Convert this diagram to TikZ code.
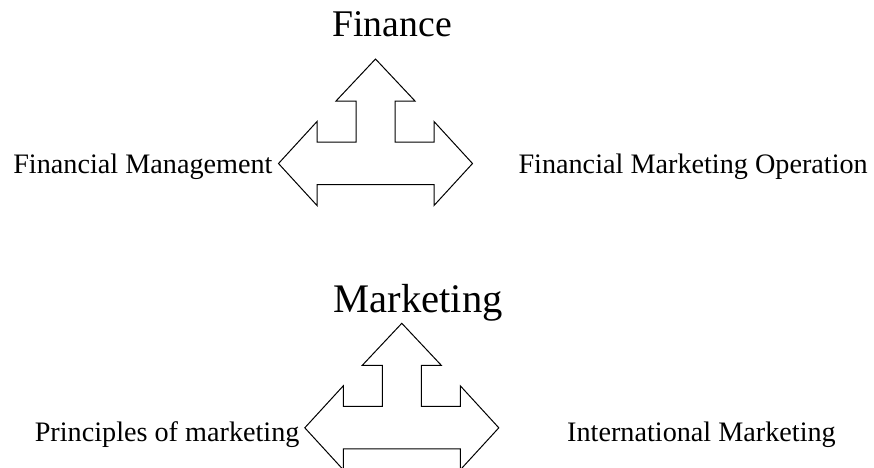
\documentclass[tikz,border=0pt]{standalone}
\usepackage{fontspec}
\setmainfont{Liberation Serif}
\usetikzlibrary{positioning}

\tikzset{
	threeway/.pic={
		\draw[line join=miter] (0,-104.5) -- (39.5,-62.5) -- (19.5,-62.5) -- (19.5,-21.5) -- (58.5,-21.5) -- (58.5,-42) -- (97,0) -- (58.5,42) -- (58.5,21)
			-- (-58.5,21) -- (-58.5,42) -- (-97,0) -- (-58.5,-42) -- (-58.5,-21.5) -- (-19.5,-21.5) -- (-19.5,-62.5) -- (-39.5,-62.5) -- cycle;
		\coordinate (-w) at (-97,0);
		\coordinate (-e) at (97,0);
	},
	lbl/.style={font=\fontsize{28.2}{30}\selectfont, inner sep=0pt},
	ttl/.style={inner sep=0pt, anchor=base west}
}

\begin{document}
\begin{tikzpicture}[x=1pt, y=-1pt, line width=1pt]
	\useasboundingbox (0,0) rectangle (874,467);
	% Finance
	\node[ttl, font=\fontsize{37.7}{40}\selectfont] (fin) at (332,36.7) {Finance};
	\pic (arrF) at (375.5,163.5) {threeway};
	\node[lbl, anchor=base east] (finL) at (273,173.3) {Financial Management};
	\node[lbl, anchor=base west] (finR) at (518,173.3) {Financial Marketing Operation};
	% Marketing
	\node[ttl, font=\fontsize{40.6}{43}\selectfont] (mkt) at (333,312) {Marketing};
	\pic (arrM) at (401.8,427.8) {threeway};
	\node[lbl, anchor=base east] (mktL) at (300,441.7) {Principles of marketing};
	\node[lbl, anchor=base west] (mktR) at (566.7,441.7) {International Marketing};
\end{tikzpicture}
\end{document}
